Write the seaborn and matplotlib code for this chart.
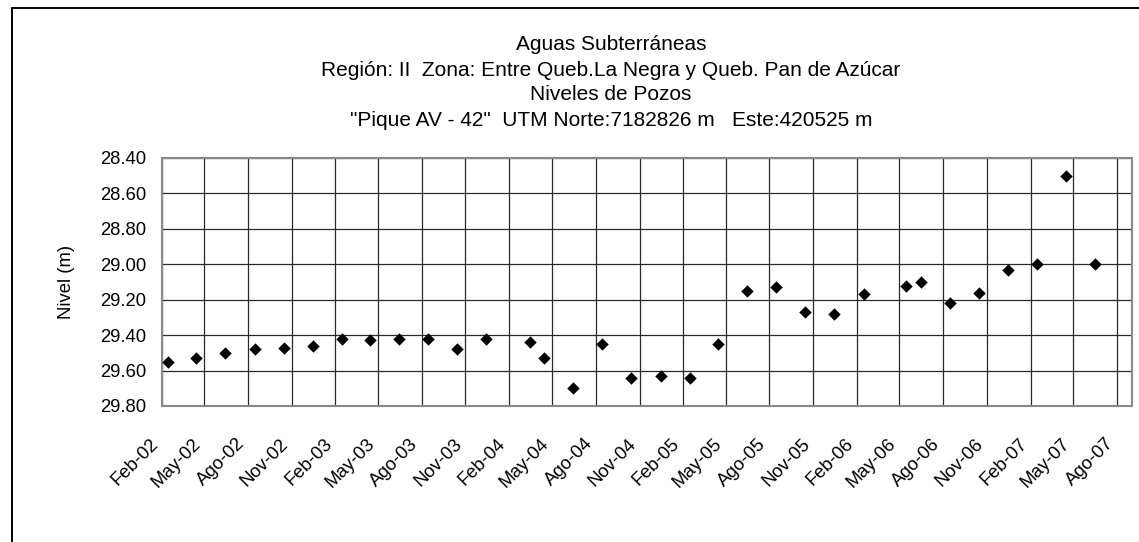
import matplotlib
matplotlib.use("Agg")
import matplotlib.pyplot as plt
import matplotlib.dates as mdates
from matplotlib.lines import Line2D
import pandas as pd
import seaborn as sns

# Fechas de medición y nivel del agua (m) del pozo
fechas = [
    "2002-02-15", "2002-04-15", "2002-06-15", "2002-08-15", "2002-10-15", "2002-12-15",
    "2003-02-15", "2003-04-15", "2003-06-15", "2003-08-15", "2003-10-15", "2003-12-15",
    "2004-03-15", "2004-04-15", "2004-06-15", "2004-08-15", "2004-10-15", "2004-12-15",
    "2005-02-15", "2005-04-15", "2005-06-15", "2005-08-15", "2005-10-15", "2005-12-15",
    "2006-02-15", "2006-05-15", "2006-06-15", "2006-08-15", "2006-10-15", "2006-12-15",
    "2007-02-15", "2007-04-15", "2007-06-15",
]
nivel = [
    29.55, 29.53, 29.50, 29.48, 29.47, 29.46,
    29.42, 29.43, 29.42, 29.42, 29.48, 29.42,
    29.44, 29.53, 29.70, 29.45, 29.64, 29.63,
    29.64, 29.45, 29.15, 29.13, 29.27, 29.28,
    29.17, 29.12, 29.10, 29.22, 29.16, 29.03,
    29.00, 28.50, 29.00,
]

# Etiquetas trimestrales del eje X
etiquetas_x = [
    "Feb-02", "May-02", "Ago-02", "Nov-02", "Feb-03", "May-03", "Ago-03", "Nov-03",
    "Feb-04", "May-04", "Ago-04", "Nov-04", "Feb-05", "May-05", "Ago-05", "Nov-05",
    "Feb-06", "May-06", "Ago-06", "Nov-06", "Feb-07", "May-07", "Ago-07",
]
etiquetas_y = ["28.40", "28.60", "28.80", "29.00", "29.20", "29.40", "29.60", "29.80"]

titulo = [
    "Aguas Subterráneas",
    "Región: II  Zona: Entre Queb.La Negra y Queb. Pan de Azúcar",
    "Niveles de Pozos",
    "\"Pique AV - 42\"  UTM Norte:7182826 m   Este:420525 m",
]

df = pd.DataFrame({"fecha": pd.to_datetime(fechas), "nivel": nivel})

sns.set_theme(style="white")
plt.rcParams["font.family"] = ["Liberation Sans", "DejaVu Sans"]

W, H = 1139, 542
fig = plt.figure(figsize=(W / 100, H / 100), dpi=100)
fig.patch.set_facecolor("white")

# área de trazado en píxeles
x0, x1, y_top, y_bot = 161.7, 1131.7, 158.0, 406.0
ax = fig.add_axes([x0 / W, 1 - y_bot / H, (x1 - x0) / W, (y_bot - y_top) / H])

sns.scatterplot(data=df, x="fecha", y="nivel", ax=ax, marker="D", s=40,
                color="black", edgecolor="black", linewidth=0, zorder=3)

# eje Y invertido
yticks = [float(v) for v in etiquetas_y]
ax.set_ylim(yticks[-1], yticks[0])
ax.set_yticks(yticks)
ax.set_yticklabels(etiquetas_y)

xticks = pd.date_range("2002-02-01", periods=len(etiquetas_x), freq="3MS")
ax.set_xlim(mdates.date2num(pd.Timestamp("2002-02-01")),
            mdates.date2num(pd.Timestamp("2007-09-01")))
ax.set_xticks(mdates.date2num(xticks))
ax.set_xticklabels(etiquetas_x, rotation=45, ha="right", rotation_mode="default")

ax.grid(True, color="#2a2a2a", linewidth=0.9)
ax.set_axisbelow(True)
for sp in ax.spines.values():
    sp.set_color("#8a8a8a")
    sp.set_linewidth(1.5)

ax.tick_params(axis="x", length=0, pad=21, labelsize=13.3, colors="black")
ax.tick_params(axis="y", length=0, pad=11, labelsize=13.3, colors="black")
ax.set_xlabel("")
ax.set_ylabel("Nivel (m)", fontsize=13.3, color="black")
ax.yaxis.set_label_coords((75 - x0) / (x1 - x0), 0.5)

# título en cuatro líneas
for i, linea in enumerate(titulo):
    fig.text(611 / W, 1 - (45 + 25 * i) / H, linea, ha="center", va="center",
             fontsize=15, color="black")

# marco exterior del gráfico
fig.add_artist(Line2D([12 / W, 12 / W], [0, 1 - 8 / H], color="black", lw=1.4,
                      transform=fig.transFigure))
fig.add_artist(Line2D([12 / W, 1], [1 - 8 / H, 1 - 8 / H], color="black", lw=1.4,
                      transform=fig.transFigure))

fig.savefig("out.png", dpi=100)
